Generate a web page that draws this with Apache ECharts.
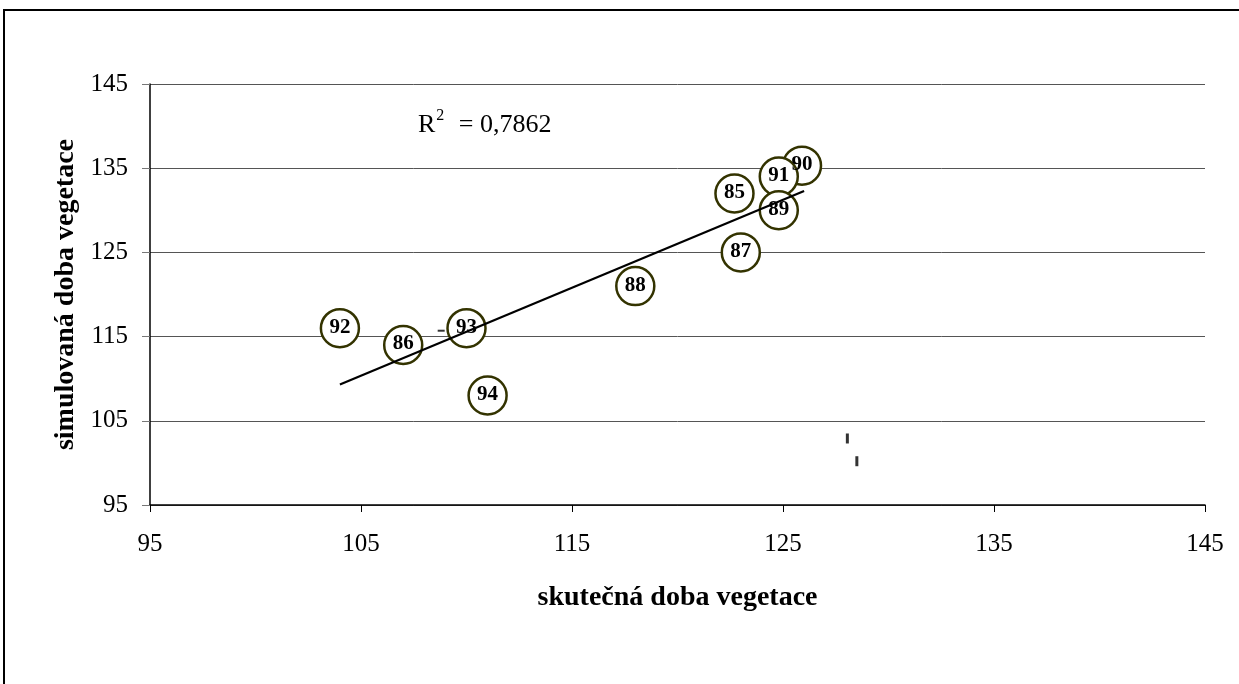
<!DOCTYPE html>
<html>
<head>
<meta charset="utf-8">
<script src="https://cdn.jsdelivr.net/npm/echarts@6/dist/echarts.min.js"></script>
<style>html,body{margin:0;padding:0;background:#fff;}#c{width:1239px;height:684px;}</style>
</head>
<body>
<div id="c"></div>
<script>
// Data
const years = ['92','86','93','94','88','85','87','90','91','89'];
const actual = [104, 107, 110, 111, 118, 122.7, 123, 125.9, 124.8, 124.8];
const simulated = [116, 114, 116, 108, 121, 132, 125, 135.3, 134, 130];
const trendX = [104, 126];
const trendY = [109.3, 132.3];
const strayX = [108.8, 128.05, 128.5];
const strayY = [115.7, 102.9, 100.2];
const xTicks = [95, 105, 115, 125, 135, 145];
const yTicks = [95, 105, 115, 125, 135, 145];
const r2Text = '0,7862';

const font = 'Liberation Serif';
const chart = echarts.init(document.getElementById('c'));
chart.setOption({
  animation: false,
  backgroundColor: '#fff',
  grid: {left: 150, right: 34, top: 84, bottom: 179},
  xAxis: {
    type: 'value', min: xTicks[0], max: xTicks[xTicks.length - 1], interval: 10,
    name: 'skutečná doba vegetace', nameLocation: 'middle', nameGap: 79,
    nameTextStyle: {fontFamily: font, fontWeight: 'bold', fontSize: 28, color: '#000'},
    axisLine: {lineStyle: {color: '#000', width: 1.5}},
    axisTick: {show: true, length: 7, lineStyle: {color: '#000'}},
    axisLabel: {fontFamily: font, fontSize: 25, color: '#000', margin: 27},
    splitLine: {show: false}
  },
  yAxis: {
    type: 'value', min: yTicks[0], max: yTicks[yTicks.length - 1], interval: 10,
    name: 'simulovaná doba vegetace', nameLocation: 'middle', nameGap: 70,
    nameTextStyle: {fontFamily: font, fontWeight: 'bold', fontSize: 28, color: '#000'},
    axisLine: {show: true, lineStyle: {color: '#000', width: 1.5}},
    axisTick: {show: true, length: 8, lineStyle: {color: '#777'}},
    axisLabel: {fontFamily: font, fontSize: 25, color: '#000', margin: 22},
    splitLine: {show: true, lineStyle: {color: '#555', width: 1}}
  },
  graphic: [
    {type: 'rect', shape: {x: 4, y: 10, width: 1260, height: 700},
     style: {fill: 'none', stroke: '#000', lineWidth: 2}, z: 100},
    {type: 'text', left: 418, top: 108, z: 100,
     style: {text: '{r|R}{s|2}{r| = ' + r2Text + '}',
       rich: {r: {fontFamily: font, fontSize: 26, fill: '#000', verticalAlign: 'bottom', lineHeight: 30},
              s: {fontFamily: font, fontSize: 16, fill: '#000', verticalAlign: 'top', padding: [0, 8, 14, 1], lineHeight: 30}}}}
  ],
  series: [
    {
      type: 'scatter', z: 2,
      data: actual.map((x, i) => [x, simulated[i], years[i]]),
      symbol: 'circle', symbolSize: 38,
      itemStyle: {color: '#fff', borderColor: '#333300', borderWidth: 2.5, opacity: 1},
      label: {show: true, position: 'inside', formatter: p => p.data[2],
        fontFamily: font, fontWeight: 'bold', fontSize: 21, color: '#000', offset: [0, -1]},
      emphasis: {disabled: true}
    },
    {
      type: 'line', z: 5, data: trendX.map((x, i) => [x, trendY[i]]),
      showSymbol: false, symbol: 'none',
      lineStyle: {color: '#000', width: 2.2}
    },
    {
      type: 'scatter', z: 6,
      data: strayX.map((x, i) => [x, strayY[i]]),
      symbol: 'rect',
      symbolSize: (v, p) => p.dataIndex === 0 ? [7, 2] : [3, 10],
      itemStyle: {color: '#000'}
    }
  ]
});
</script>
</body>
</html>
